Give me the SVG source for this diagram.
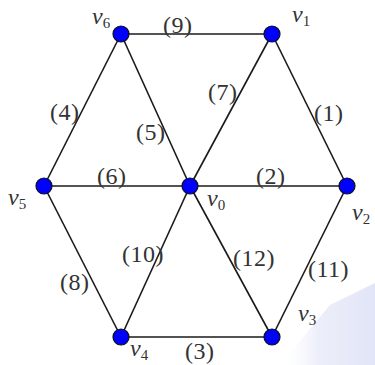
<svg xmlns="http://www.w3.org/2000/svg" width="375" height="365" viewBox="0 0 375 365">
<defs>
<linearGradient id="wm" x1="0" y1="0" x2="1" y2="0">
<stop offset="0" stop-color="#ffffff" stop-opacity="0"/>
<stop offset="0.4" stop-color="#eceef9"/>
<stop offset="1" stop-color="#e2e5f8"/>
</linearGradient>
</defs>
<style>
.e{stroke:#1a1a1a;stroke-width:1.6;fill:none}
.n{fill:#0000ff;stroke:#111;stroke-width:1.2}
</style>
<rect width="375" height="365" fill="#fff"/>
<polygon points="280,365 330,305 375,283 375,365" fill="url(#wm)"/>
<g id="edges">
<line class="e" x1="121" y1="34" x2="272" y2="34"/>
<line class="e" x1="121" y1="34" x2="44" y2="186"/>
<line class="e" x1="121" y1="34" x2="190" y2="186"/>
<line class="e" x1="272" y1="34" x2="190" y2="186"/>
<line class="e" x1="272" y1="34" x2="347" y2="186"/>
<line class="e" x1="44" y1="186" x2="347" y2="186"/>
<line class="e" x1="44" y1="186" x2="121" y2="337"/>
<line class="e" x1="190" y1="186" x2="121" y2="337"/>
<line class="e" x1="190" y1="186" x2="272" y2="337"/>
<line class="e" x1="347" y1="186" x2="272" y2="337"/>
<line class="e" x1="121" y1="337" x2="272" y2="337"/>
</g>
<g id="edge-labels" font-family="Liberation Serif, serif" font-size="24" fill="#333" letter-spacing="0.5">
<text x="163" y="33">(9)</text>
<text x="208" y="100">(7)</text>
<text x="314" y="121">(1)</text>
<text x="50" y="120">(4)</text>
<text x="136" y="140">(5)</text>
<text x="97" y="184">(6)</text>
<text x="256" y="184">(2)</text>
<text x="122" y="262">(10)</text>
<text x="233" y="266">(12)</text>
<text x="308" y="277">(11)</text>
<text x="60" y="290">(8)</text>
<text x="185" y="359">(3)</text>
</g>
<g font-family="Liberation Serif, serif" font-size="24" font-style="italic" fill="#333">
<g id="v6"><circle class="n" cx="121" cy="34" r="8"/><text x="92" y="24">v<tspan font-size="15" font-style="normal" dy="4">6</tspan></text></g>
<g id="v1"><circle class="n" cx="272" cy="34" r="8"/><text x="292" y="22">v<tspan font-size="15" font-style="normal" dy="4">1</tspan></text></g>
<g id="v5"><circle class="n" cx="44" cy="186" r="8"/><text x="8" y="205">v<tspan font-size="15" font-style="normal" dy="4">5</tspan></text></g>
<g id="v0"><circle class="n" cx="190" cy="186" r="8"/><text x="207" y="206">v<tspan font-size="15" font-style="normal" dy="4">0</tspan></text></g>
<g id="v2"><circle class="n" cx="347" cy="186" r="8"/><text x="352" y="220">v<tspan font-size="15" font-style="normal" dy="4">2</tspan></text></g>
<g id="v3"><circle class="n" cx="272" cy="337" r="8"/><text x="298" y="321">v<tspan font-size="15" font-style="normal" dy="4">3</tspan></text></g>
<g id="v4"><circle class="n" cx="121" cy="337" r="8"/><text x="130" y="356">v<tspan font-size="15" font-style="normal" dy="4">4</tspan></text></g>
</g>
</svg>
